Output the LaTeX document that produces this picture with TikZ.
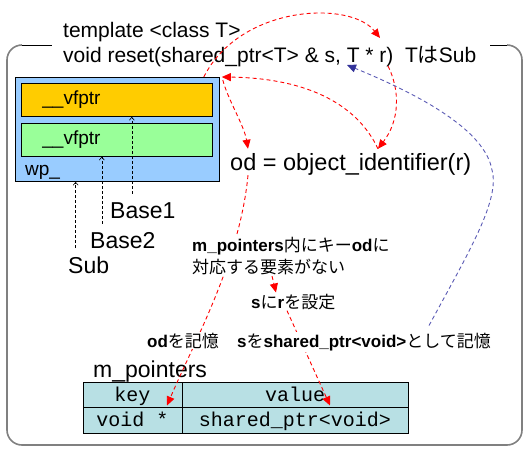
\documentclass[tikz,border=0pt]{standalone}
\usepackage{fontspec}
\setmainfont{Liberation Sans}
\setmonofont{Liberation Mono}
\newfontfamily\jp{Noto Sans CJK JP}
\usetikzlibrary{positioning, arrows.meta, calc}
\definecolor{wpblue}{RGB}{153, 204, 255}
\definecolor{vforange}{RGB}{255, 204, 0}
\definecolor{vfgreen}{RGB}{153, 255, 153}
\definecolor{tabcyan}{RGB}{184, 224, 228}
\definecolor{framegray}{RGB}{128, 128, 128}
\definecolor{ptrblue}{RGB}{90, 90, 180}
\definecolor{tipblue}{RGB}{51, 51, 153}
\pgfdeclarelayer{front}
\pgfsetlayers{main,front}

\begin{document}
\begin{tikzpicture}[
    x=1pt, y=-1pt, % pixel-like units, origin top left
    txt/.style={inner sep=0pt, font=#1}, % plain text, font as argument
    box/.style={ % filled rectangle, fill color as argument
        rectangle,
        draw=black,
        line width=0.8pt,
        inner sep=0pt,
        fill=#1
    },
    vfbox/.style={box=#1, minimum width=191pt, minimum height=33pt,
        text width=149pt, inner xsep=21pt, align=left,
        font=\fontsize{19}{22}\selectfont, anchor=north west},
    cell/.style={ % table cells
        rectangle, draw=black, line width=0.8pt, fill=tabcyan,
        minimum height=25.5pt, inner sep=0pt, outer sep=0pt,
        text height=16pt, text depth=3pt,
        font=\ttfamily\fontsize{20}{24}\selectfont
    },
    note/.style={fill=white, inner sep=1pt, font=\fontsize{17}{22}\selectfont},
    % Arrow styles
    flow/.style={draw=red, line width=0.9pt, dash pattern=on 4pt off 3pt,
        -{Triangle[length=9pt, width=8pt]}},
    back/.style={draw=ptrblue, line width=0.9pt, dash pattern=on 4pt off 3pt,
        -{Triangle[length=9pt, width=8pt, color=tipblue]}},
    ptr/.style={draw=black, line width=0.6pt, dash pattern=on 3pt off 2pt,
        -{Straight Barb[length=3pt, width=5pt]}, shorten <=8pt}
]
\useasboundingbox (0,0) rectangle (529,453);

% Outer frame, open at the top for the signature
\draw[framegray, line width=1.6pt, rounded corners=15pt] (22,45) -| (7,445) -| (522,45) -- (507,45);
\draw[black, line width=0.8pt] (22,45) -- (52,45);
\draw[black, line width=0.8pt] (490,45) -- (507,45);

% Signature
\node[txt=\fontsize{21}{25}\selectfont, anchor=base west] (tmpl) at (63,37) {template <class T>};
\node[txt=\fontsize{21}{25}\selectfont, anchor=base west] (sig) at (63,62) {void reset(shared\_ptr<T> \& s, T * r)\ \ T{\jp は}Sub};

% Object layout
\node[box=wpblue, minimum width=204pt, minimum height=104pt, anchor=north west] (wp) at (15,77) {};
\node[vfbox=vforange] (vf1) at (21,83) {\_\_vfptr};
\node[vfbox=vfgreen, below=6pt of vf1] (vf2) {\_\_vfptr};
\node[txt=\fontsize{19}{22}\selectfont, anchor=base west] (wpname) at (25,175) {wp\_};

% Class labels
\node[txt=\fontsize{23}{26}\selectfont, anchor=base west] (base1) at (110,218) {Base1};
\node[txt=\fontsize{23}{26}\selectfont, anchor=base west] (base2) at (90,248) {Base2};
\node[txt=\fontsize{23}{26}\selectfont, anchor=base west] (sub) at (68,273) {Sub};

\coordinate (b1) at ([xshift=-11pt]base1.north);
\coordinate (b2) at ([xshift=-21pt]base2.north);
\coordinate (b3) at ([xshift=-13pt]sub.north);
\draw[ptr] (b1) -- (b1 |- vf1.south);
\draw[ptr] (b2) -- (b2 |- vf2.south);
\draw[ptr] (b3) -- (b3 |- wp.south);

% Identifier
\node[txt=\fontsize{23.5}{27}\selectfont, anchor=base west] (od) at (230,170) {od = object\_identifier(r)};

% m_pointers table
\node[txt=\fontsize{23}{26}\selectfont, anchor=base west] (mptitle) at (93,377) {m\_pointers};
\node[cell, minimum width=99pt, anchor=north west] (keyhead) at (83,382) {key};
\node[cell, minimum width=226pt, right=0pt of keyhead] (valhead) {value};
\node[cell, minimum width=99pt, below=0pt of keyhead] (keycell) {void *};
\node[cell, minimum width=226pt, below=0pt of valhead] (valcell) {shared\_ptr<void>};

% Steps, on top of the dashed arrows
\begin{pgfonlayer}{front}
    \node[note, anchor=west, align=left] (cond) at (191,256)
        {\textbf{m\_pointers}{\jp 内にキー}\textbf{od}{\jp に}\\{\jp 対応する要素がない}};
    \node[note, anchor=base west] (set) at (250,308) {\textbf{s}{\jp に}\textbf{r}{\jp を設定}};
    \node[note, anchor=base west] (memod) at (146,347) {\textbf{od}{\jp を記憶}};
    \node[note, anchor=base west] (memsp) at (236,347) {\textbf{s}{\jp を}\textbf{shared\_ptr<void>}{\jp として記憶}};
\end{pgfonlayer}

% Points in the signature
\coordinate (rarg) at (380,38);
\coordinate (rfrom) at (388,66);
\coordinate (sarg) at (347,65);

% Red flow arrows
\draw[flow] ([xshift=-16pt]wp.north east) .. controls (240,5) and (350,0) .. (rarg);
\draw[flow] (rfrom) .. controls (400,90) and (400,120) .. ([xshift=148pt,yshift=4pt]od.north west);
\draw[flow] ([xshift=148pt,yshift=4pt]od.north west) .. controls (355,100) and (300,78) .. ([xshift=2pt]wp.north east);
\draw[flow] ([xshift=3pt,yshift=-3pt]wp.north east) .. controls (228,100) and (244,125) .. ([xshift=18pt,yshift=4pt]od.north west);
\draw[flow] ([xshift=18pt]od.south west) .. controls (240,260) and (195,340) .. ([xshift=-15pt,yshift=2pt]keyhead.south east);
\draw[flow] ([xshift=81pt]cond.south west) -- ([xshift=26pt]set.north west);
\draw[flow] ([xshift=37pt]set.south west) -- ([xshift=148pt,yshift=2pt]valhead.south west);

% Blue arrow back to s
\draw[back] ([xshift=193pt,yshift=6pt]memsp.north west) .. controls (470,250) and (500,200) .. (492,170)
    .. controls (485,130) and (420,95) .. (sarg);

\end{tikzpicture}
\end{document}
